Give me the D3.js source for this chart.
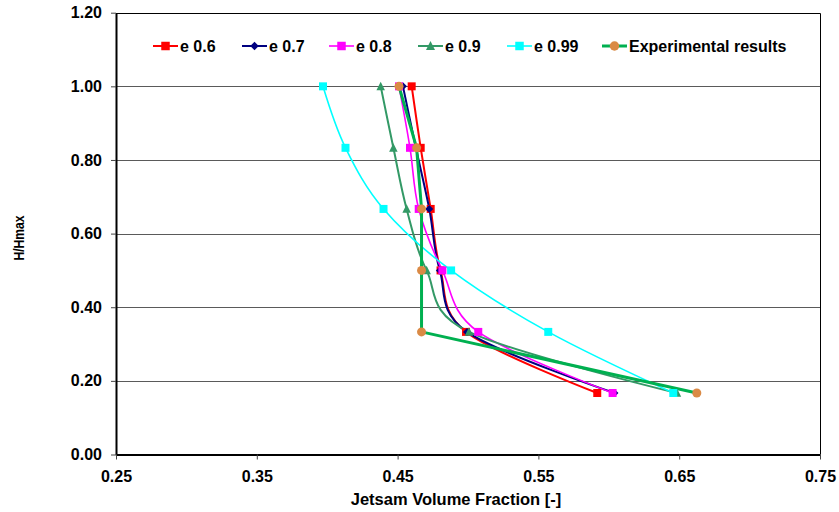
<!DOCTYPE html>
<html>
<head>
<meta charset="utf-8">
<script src="https://cdn.jsdelivr.net/npm/d3@7"></script>
<style>
  body { margin: 0; background: #fff; }
  svg { display: block; font-family: "Liberation Sans", Arial, sans-serif; font-weight: bold; }
</style>
</head>
<body>
<svg id="chart" width="839" height="512"></svg>
<script>
// H/Hmax levels (shared by all series)
const heights = [1.0, 0.833, 0.667, 0.5, 0.333, 0.167];

// jetsam volume fraction per series, same order as heights
const e06 = [0.460, 0.4664, 0.4735, 0.4805, 0.4986, 0.5918];
const e07 = [0.4538, 0.463, 0.4725, 0.480, 0.4993, 0.604];
const e08 = [0.451, 0.4588, 0.465, 0.4818, 0.5073, 0.6027];
const e09 = [0.438, 0.447, 0.4564, 0.4706, 0.5007, 0.6484];
const e099 = [0.397, 0.413, 0.440, 0.488, 0.557, 0.6458];
const experimental = [0.451, 0.4635, 0.467, 0.467, 0.467, 0.6625];

const seriesNames = ["e 0.6", "e 0.7", "e 0.8", "e 0.9", "e 0.99", "Experimental results"];
const xTicks = [0.25, 0.35, 0.45, 0.55, 0.65, 0.75];
const yTicks = [0, 0.2, 0.4, 0.6, 0.8, 1.0, 1.2];

const styles = [
  { color: "#FF0000", marker: "square", width: 2, smooth: true },
  { color: "#000080", marker: "diamond", width: 2, smooth: true },
  { color: "#FF00FF", marker: "square", width: 1.6, smooth: true },
  { color: "#339966", marker: "triangle", width: 2, smooth: true },
  { color: "#00FFFF", marker: "square", width: 1.6, smooth: true },
  { color: "#00B050", marker: "circle", width: 3, smooth: false, markerColor: "#DA8A45" }
];

const series = [e06, e07, e08, e09, e099, experimental].map((vals, i) => ({
  name: seriesNames[i],
  points: vals.map((v, j) => ({ v: v, h: heights[j] })),
  ...styles[i]
}));

const LEFT = 116, RIGHT = 820, TOP = 12.7, BOTTOM = 454.5;

const svg = d3.select("#chart");

const x = d3.scaleLinear().domain([0.25, 0.75]).range([LEFT, RIGHT]);
const y = d3.scaleLinear().domain([0, 1.2]).range([BOTTOM, TOP]);

const markerPath = (type, s) => {
  const r = s / 2;
  if (type === "square") return `M${-r},${-r}H${r}V${r}H${-r}Z`;
  if (type === "diamond") return `M0,${-r}L${r},0L0,${r}L${-r},0Z`;
  if (type === "triangle") return `M0,${-r * 1.1}L${r},${r * 0.9}L${-r},${r * 0.9}Z`;
  return d3.arc()({ innerRadius: 0, outerRadius: r + 0.3, startAngle: 0, endAngle: 2 * Math.PI });
};

const markerSize = { square: 8, diamond: 8, triangle: 8.5, circle: 8.4 };

// gridlines
svg.append("g")
  .selectAll("line")
  .data(yTicks.filter(t => t > 0 && t < 1.2))
  .enter()
  .append("line")
  .attr("x1", LEFT)
  .attr("x2", RIGHT)
  .attr("y1", d => Math.round(y(d)) + 0.5)
  .attr("y2", d => Math.round(y(d)) + 0.5)
  .attr("stroke", "#5a5a5a")
  .attr("stroke-width", 1);

// top and right frame
svg.append("path")
  .attr("d", `M${LEFT},${Math.round(TOP) + 0.5}H${RIGHT + 0.5}V${BOTTOM}`)
  .attr("fill", "none")
  .attr("stroke", "#000")
  .attr("stroke-width", 1);

// axes
const yAxis = d3.axisLeft(y)
  .tickValues(yTicks)
  .tickFormat(d3.format(".2f"))
  .tickSize(5)
  .tickSizeOuter(0)
  .tickPadding(9);

const xAxis = d3.axisBottom(x)
  .tickValues(xTicks)
  .tickFormat(d3.format(".2f"))
  .tickSize(5)
  .tickSizeOuter(0)
  .tickPadding(11);

const gy = svg.append("g").attr("transform", `translate(${LEFT},0)`).call(yAxis);
const gx = svg.append("g").attr("transform", `translate(0,${BOTTOM})`).call(xAxis);

[gy, gx].forEach(g => {
  g.select(".domain").attr("stroke", "#000").attr("stroke-width", 2);
  g.selectAll(".tick line").attr("stroke", "#444");
  g.selectAll(".tick text")
    .attr("fill", "#000")
    .style("font-family", "'Liberation Sans', Arial, sans-serif")
    .style("font-weight", "bold")
    .style("font-size", "16px");
});

// series lines
const lineGen = smooth => d3.line()
  .x(d => x(d.v))
  .y(d => y(d.h))
  .curve(smooth ? d3.curveCatmullRom.alpha(0) : d3.curveLinear);

svg.append("g")
  .selectAll("path")
  .data(series)
  .enter()
  .append("path")
  .attr("d", s => lineGen(s.smooth)(s.points))
  .attr("fill", "none")
  .attr("stroke", s => s.color)
  .attr("stroke-width", s => s.width)
  .attr("stroke-linejoin", "round");

// markers
series.forEach(s => {
  svg.append("g")
    .selectAll("path")
    .data(s.points)
    .enter()
    .append("path")
    .attr("transform", d => `translate(${x(d.v)},${y(d.h)})`)
    .attr("d", markerPath(s.marker, markerSize[s.marker]))
    .attr("fill", s.markerColor || s.color);
});

// legend
const legendX = [153, 242, 329, 418, 507, 602];
const legendY = 46;
const legend = svg.append("g")
  .selectAll("g")
  .data(series)
  .enter()
  .append("g")
  .attr("transform", (d, i) => `translate(${legendX[i]},${legendY})`);

legend.append("line")
  .attr("x1", 0)
  .attr("x2", 25)
  .attr("y1", 0)
  .attr("y2", 0)
  .attr("stroke", d => d.color)
  .attr("stroke-width", d => d.width);

legend.append("path")
  .attr("transform", "translate(12.5,0)")
  .attr("d", d => markerPath(d.marker, markerSize[d.marker] + 0.5))
  .attr("fill", d => d.markerColor || d.color);

legend.append("text")
  .attr("x", 27)
  .attr("y", 6)
  .attr("font-size", 16)
  .attr("fill", "#000")
  .text(d => d.name);

// axis titles
svg.append("text")
  .attr("x", 456)
  .attr("y", 505)
  .attr("text-anchor", "middle")
  .attr("font-size", 16.5)
  .text("Jetsam Volume Fraction [-]");

svg.append("text")
  .attr("transform", "translate(24,238) rotate(-90)")
  .attr("text-anchor", "middle")
  .attr("font-size", 15)
  .attr("textLength", 45)
  .attr("lengthAdjust", "spacingAndGlyphs")
  .text("H/Hmax");
</script>
</body>
</html>
